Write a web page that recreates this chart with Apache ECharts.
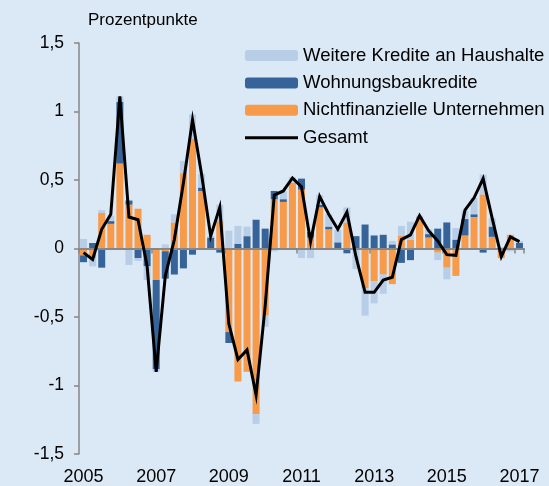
<!DOCTYPE html>
<html>
<head>
<meta charset="utf-8">
<script src="https://cdn.jsdelivr.net/npm/echarts@6/dist/echarts.min.js"></script>
<style>
    html, body {margin: 0; padding: 0; background: #dbe8f5;}
    #chart {width: 549px; height: 486px;}
</style>
</head>
<body>
<div id="chart"></div>
<script>
// Quartale 2005 Q1 bis 2017 Q1
let quarters = [];
for (let y = 2005; y <= 2017; y++) {
    for (let q = 1; q <= 4; q++) {
        if (y === 2017 && q > 1) break;
        quarters.push(y + ' Q' + q);
    }
}

let weitereKredite = [0.07, -0.06, 0.02, 0.04, 0.04, -0.12, -0.02, -0.10, -0.02, 0.03,
    0.06, 0.09, 0.18, 0.10, 0.01, 0.12, 0.13, 0.13, 0.07, -0.07,
    -0.08, -0.02, 0.06, 0.04, -0.07, -0.07, 0.07, 0.09, 0.09, 0.11,
    -0.15, -0.20, -0.16, -0.14, 0.025, 0.07, 0.13, 0.01, 0.035, -0.055,
    -0.085, 0.085, 0.06, 0.12, 0.145, 0.06, 0.01, -0.02, 0.015];
let wohnungsbau = [-0.05, 0.04, -0.14, 0.02, 0.45, 0.03, -0.07, -0.13, -0.65, -0.20,
    -0.19, -0.145, -0.045, 0.025, 0.08, -0.03, -0.08, 0.035, 0.09, 0.21,
    0.145, 0.06, 0.02, 0.0, 0.08, 0.04, 0.02, 0.02, 0.045, -0.035,
    0.09, 0.175, 0.095, 0.10, 0.03, -0.105, -0.085, 0.0, 0.025, 0.145,
    0.19, 0.065, 0.12, 0.02, -0.03, 0.075, 0.0, 0.0, 0.04];
let unternehmen = [-0.05, -0.07, 0.26, 0.18, 0.62, 0.32, 0.29, 0.10, -0.23, -0.02,
    0.19, 0.55, 0.80, 0.42, 0.0, 0.20, -0.61, -0.97, -0.90, -1.21,
    -0.49, 0.36, 0.34, 0.48, 0.43, 0.08, 0.30, 0.14, 0.0, 0.19,
    0.0, -0.29, -0.24, -0.19, -0.26, 0.095, 0.065, 0.23, 0.08, -0.03,
    -0.14, -0.20, 0.095, 0.23, 0.395, 0.085, -0.07, 0.10, 0.0];
let gesamt = [-0.03, -0.08, 0.14, 0.25, 1.11, 0.23, 0.21, -0.13, -0.90, -0.20,
    0.065, 0.48, 0.94, 0.54, 0.09, 0.30, -0.55, -0.81, -0.74, -1.07,
    -0.42, 0.39, 0.42, 0.515, 0.45, 0.05, 0.38, 0.25, 0.14, 0.265,
    -0.06, -0.32, -0.32, -0.23, -0.21, 0.065, 0.10, 0.24, 0.13, 0.055,
    -0.045, -0.05, 0.28, 0.37, 0.51, 0.22, -0.06, 0.085, 0.05];

let seriesNames = ['Weitere Kredite an Haushalte', 'Wohnungsbaukredite', 'Nichtfinanzielle Unternehmen', 'Gesamt'];

function drawChart(chartId) {
    let myChart = echarts.init(document.getElementById(chartId));
    let font = "'Liberation Sans', Arial, sans-serif";
    let axisColor = '#878787';
    let option = {
        backgroundColor: '#dbe8f5',
        animation: false,
        title: {
            text: 'Prozentpunkte',
            left: 88,
            top: 12,
            padding: 0,
            textStyle: {fontSize: 17, fontWeight: 'normal', color: '#000', fontFamily: font}
        },
        legend: {
            orient: 'vertical',
            left: 245,
            top: 46,
            padding: 0,
            itemWidth: 53,
            itemHeight: 11,
            itemGap: 8.4,
            textStyle: {fontSize: 18.5, color: '#000', fontFamily: font},
            data: [
                seriesNames[0],
                seriesNames[1],
                seriesNames[2],
                {name: seriesNames[3], icon: 'path://M0,0L106,0L106,6L0,6Z'}
            ]
        },
        grid: {
            left: 79,
            right: 25,
            top: 43,
            bottom: 32
        },
        xAxis: [
            {
                type: 'category',
                data: quarters,
                position: 'bottom',
                axisLine: {show: false, onZero: false},
                axisTick: {show: false},
                axisLabel: {
                    interval: 7,
                    margin: 14,
                    fontSize: 18,
                    color: '#000',
                    fontFamily: font,
                    formatter: function (v) { return v.split(' ')[0]; }
                }
            },
            {
                type: 'category',
                data: quarters,
                position: 'bottom',
                z: 5,
                axisLine: {show: true, onZero: true, lineStyle: {color: axisColor, width: 2}},
                axisTick: {show: true, interval: 7, length: 5, lineStyle: {color: axisColor, width: 1.5}},
                axisLabel: {show: false}
            }
        ],
        yAxis: {
            type: 'value',
            min: -1.5,
            max: 1.5,
            interval: 0.5,
            splitLine: {show: false},
            axisLine: {show: true, lineStyle: {color: axisColor, width: 1.5}},
            axisTick: {show: true, length: 5, lineStyle: {color: axisColor, width: 1.5}},
            axisLabel: {
                margin: 15,
                fontSize: 17.5,
                color: '#000',
                fontFamily: font,
                formatter: function (v) { return String(v).replace('.', ','); }
            }
        },
        series: []
    };
    // Reihenfolge im Stapel: Unternehmen, Wohnungsbau, Weitere
    option.series.push({
        name: seriesNames[2],
        type: 'bar',
        stack: 'kredite',
        barWidth: 7,
        data: unternehmen,
        itemStyle: {color: '#f79a4a'}
    });
    option.series.push({
        name: seriesNames[1],
        type: 'bar',
        stack: 'kredite',
        barWidth: 7,
        data: wohnungsbau,
        itemStyle: {color: '#366499'}
    });
    option.series.push({
        name: seriesNames[0],
        type: 'bar',
        stack: 'kredite',
        barWidth: 7,
        data: weitereKredite,
        itemStyle: {color: '#b8cde6'}
    });
    option.series.push({
        name: seriesNames[3],
        type: 'line',
        data: gesamt,
        symbol: 'none',
        z: 10,
        lineStyle: {color: '#000', width: 3, join: 'miter'},
        itemStyle: {color: '#000'}
    });
    myChart.setOption(option);
}
drawChart('chart');
</script>
</body>
</html>
